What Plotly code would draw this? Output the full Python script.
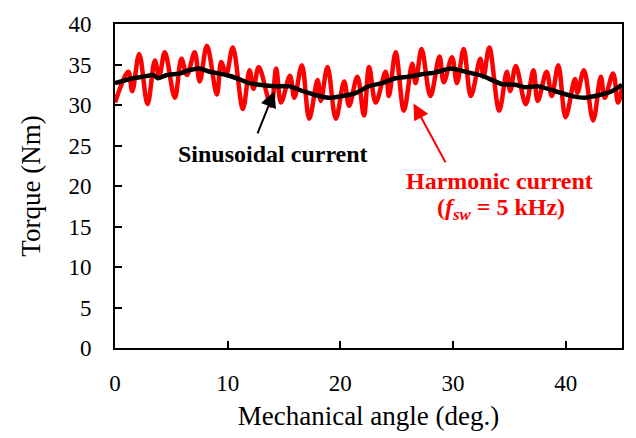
import plotly.graph_objects as go

# Sinusoidal current torque (black)
sin_angle = [0.0, 1.6, 2.5, 3.4, 3.8, 4.6, 5.8, 6.6, 7.5, 8.4, 9.9, 11.0, 11.9, 13.4, 14.3,
             15.5, 16.7, 17.6, 19.0, 20.2, 21.4, 22.5, 23.7, 24.9, 26.1, 27.2, 28.4, 29.8,
             31.1, 32.6, 34.3, 35.5, 36.4, 37.6, 39.1, 40.6, 41.7, 42.9, 44.1, 45.0]
sin_torque = [32.7, 33.3, 33.5, 33.7, 33.3, 33.7, 33.9, 34.3, 34.5, 34.1, 33.7, 33.2, 32.7, 32.4, 32.3,
              32.3, 31.7, 31.3, 30.9, 31.1, 31.5, 32.3, 32.7, 33.3, 33.5, 33.8, 34.0, 34.5,
              34.1, 33.6, 32.6, 32.5, 32.2, 32.3, 31.7, 31.1, 30.9, 31.2, 31.7, 32.5]

# Harmonic current torque (red)
har_angle = [0.0, 1.18, 1.53, 2.15, 2.89, 3.54, 3.92, 4.42, 5.31, 5.90, 6.39, 7.07, 7.52, 8.16,
             9.04, 9.43, 9.87, 10.46, 11.35, 11.94, 12.29, 12.76, 13.85, 14.30, 14.74, 15.53,
             15.92, 16.59, 17.24, 17.98, 18.27, 18.86, 19.60, 20.34, 20.78, 21.51, 22.10, 22.55,
             23.14, 24.02, 24.31, 24.91, 25.64, 26.38, 26.68, 27.21, 28.00, 28.80, 29.18, 29.91,
             30.35, 30.95, 31.59, 32.42, 32.71, 33.22, 34.10, 34.78, 35.08, 35.57, 36.46, 37.14,
             37.52, 38.31, 38.76, 39.35, 39.99, 40.82, 41.05, 41.62, 42.44, 43.12, 43.47, 44.21,
             44.65, 45.0]
har_torque = [30.3, 34.1, 31.7, 36.3, 30.1, 35.5, 33.5, 36.5, 30.9, 35.7, 33.7, 36.5, 32.9, 37.3,
              31.3, 35.3, 33.8, 37.1, 29.5, 34.3, 32.0, 34.7, 29.9, 34.5, 30.3, 33.6,
              30.9, 34.9, 28.3, 33.1, 30.5, 34.7, 28.3, 32.9, 29.9, 33.5, 28.7, 34.7,
              30.3, 34.1, 31.1, 36.5, 29.3, 35.1, 32.7, 36.9, 31.1, 36.0, 32.8, 35.9,
              32.7, 36.9, 31.1, 35.7, 33.5, 37.1, 29.3, 34.1, 31.7, 34.8, 30.1, 34.3,
              30.5, 34.1, 31.1, 34.9, 28.5, 33.2, 31.5, 34.3, 28.1, 33.5, 30.9, 33.9,
              30.3, 32.1]

x_ticks = [0, 10, 20, 30, 40]
y_ticks = [0, 5, 10, 15, 20, 25, 30, 35, 40]

FONT = "Liberation Serif, Times New Roman, serif"

fig = go.Figure()
fig.add_trace(go.Scatter(x=har_angle, y=har_torque, mode="lines",
                         line=dict(color="#ff0000", width=4.5, shape="spline", smoothing=1.0),
                         showlegend=False))
fig.add_trace(go.Scatter(x=sin_angle, y=sin_torque, mode="lines",
                         line=dict(color="#000000", width=4.5, shape="spline", smoothing=0.6),
                         showlegend=False))

# arrows
fig.add_annotation(x=14.15, y=31.7, ax=12.6, ay=26.3, axref="x", ayref="y", xref="x", yref="y",
                   text="", showarrow=True, arrowhead=2, arrowsize=1.6, arrowwidth=2, arrowcolor="black")
fig.add_annotation(x=26.5, y=30.2, ax=29.4, ay=22.75, axref="x", ayref="y", xref="x", yref="y",
                   text="", showarrow=True, arrowhead=2, arrowsize=1.6, arrowwidth=2, arrowcolor="#ff0000")

# labels
fig.add_annotation(x=14.05, y=24.0, xref="x", yref="y", text="<b>Sinusoidal current</b>",
                   showarrow=False, font=dict(family=FONT, size=24, color="black"))
fig.add_annotation(x=34.1, y=20.6, xref="x", yref="y",
                   text="<b>Harmonic current</b>",
                   showarrow=False, font=dict(family=FONT, size=24, color="#ff0000"))
fig.add_annotation(x=34.3, y=17.1, xref="x", yref="y",
                   text="<b>(<i>f</i><sub><i>sw</i></sub> = 5 kHz)</b>",
                   showarrow=False, font=dict(family=FONT, size=24, color="#ff0000"))

fig.update_layout(
    width=636, height=438,
    margin=dict(l=115, r=12, t=16, b=88),
    paper_bgcolor="white", plot_bgcolor="white",
    font=dict(family=FONT, size=23, color="black"),
    xaxis=dict(range=[0, 45], tickvals=x_ticks, ticks="inside", ticklen=7, tickwidth=1.5,
               tickcolor="black", showline=True, linecolor="black", linewidth=2, mirror=True,
               showgrid=False, zeroline=False, ticklabelstandoff=13,
               tickfont=dict(family=FONT, size=23),
               title=dict(text="Mechanical angle (deg.)", font=dict(family=FONT, size=27), standoff=12)),
    yaxis=dict(range=[0, 40], tickvals=y_ticks, ticks="inside", ticklen=7, tickwidth=1.5,
               tickcolor="black", showline=True, linecolor="black", linewidth=2, mirror=True,
               showgrid=False, zeroline=False, ticklabelstandoff=17,
               tickfont=dict(family=FONT, size=23),
               title=dict(text="Torque (Nm)", font=dict(family=FONT, size=27), standoff=20)),
)

fig.write_html("out.html")
